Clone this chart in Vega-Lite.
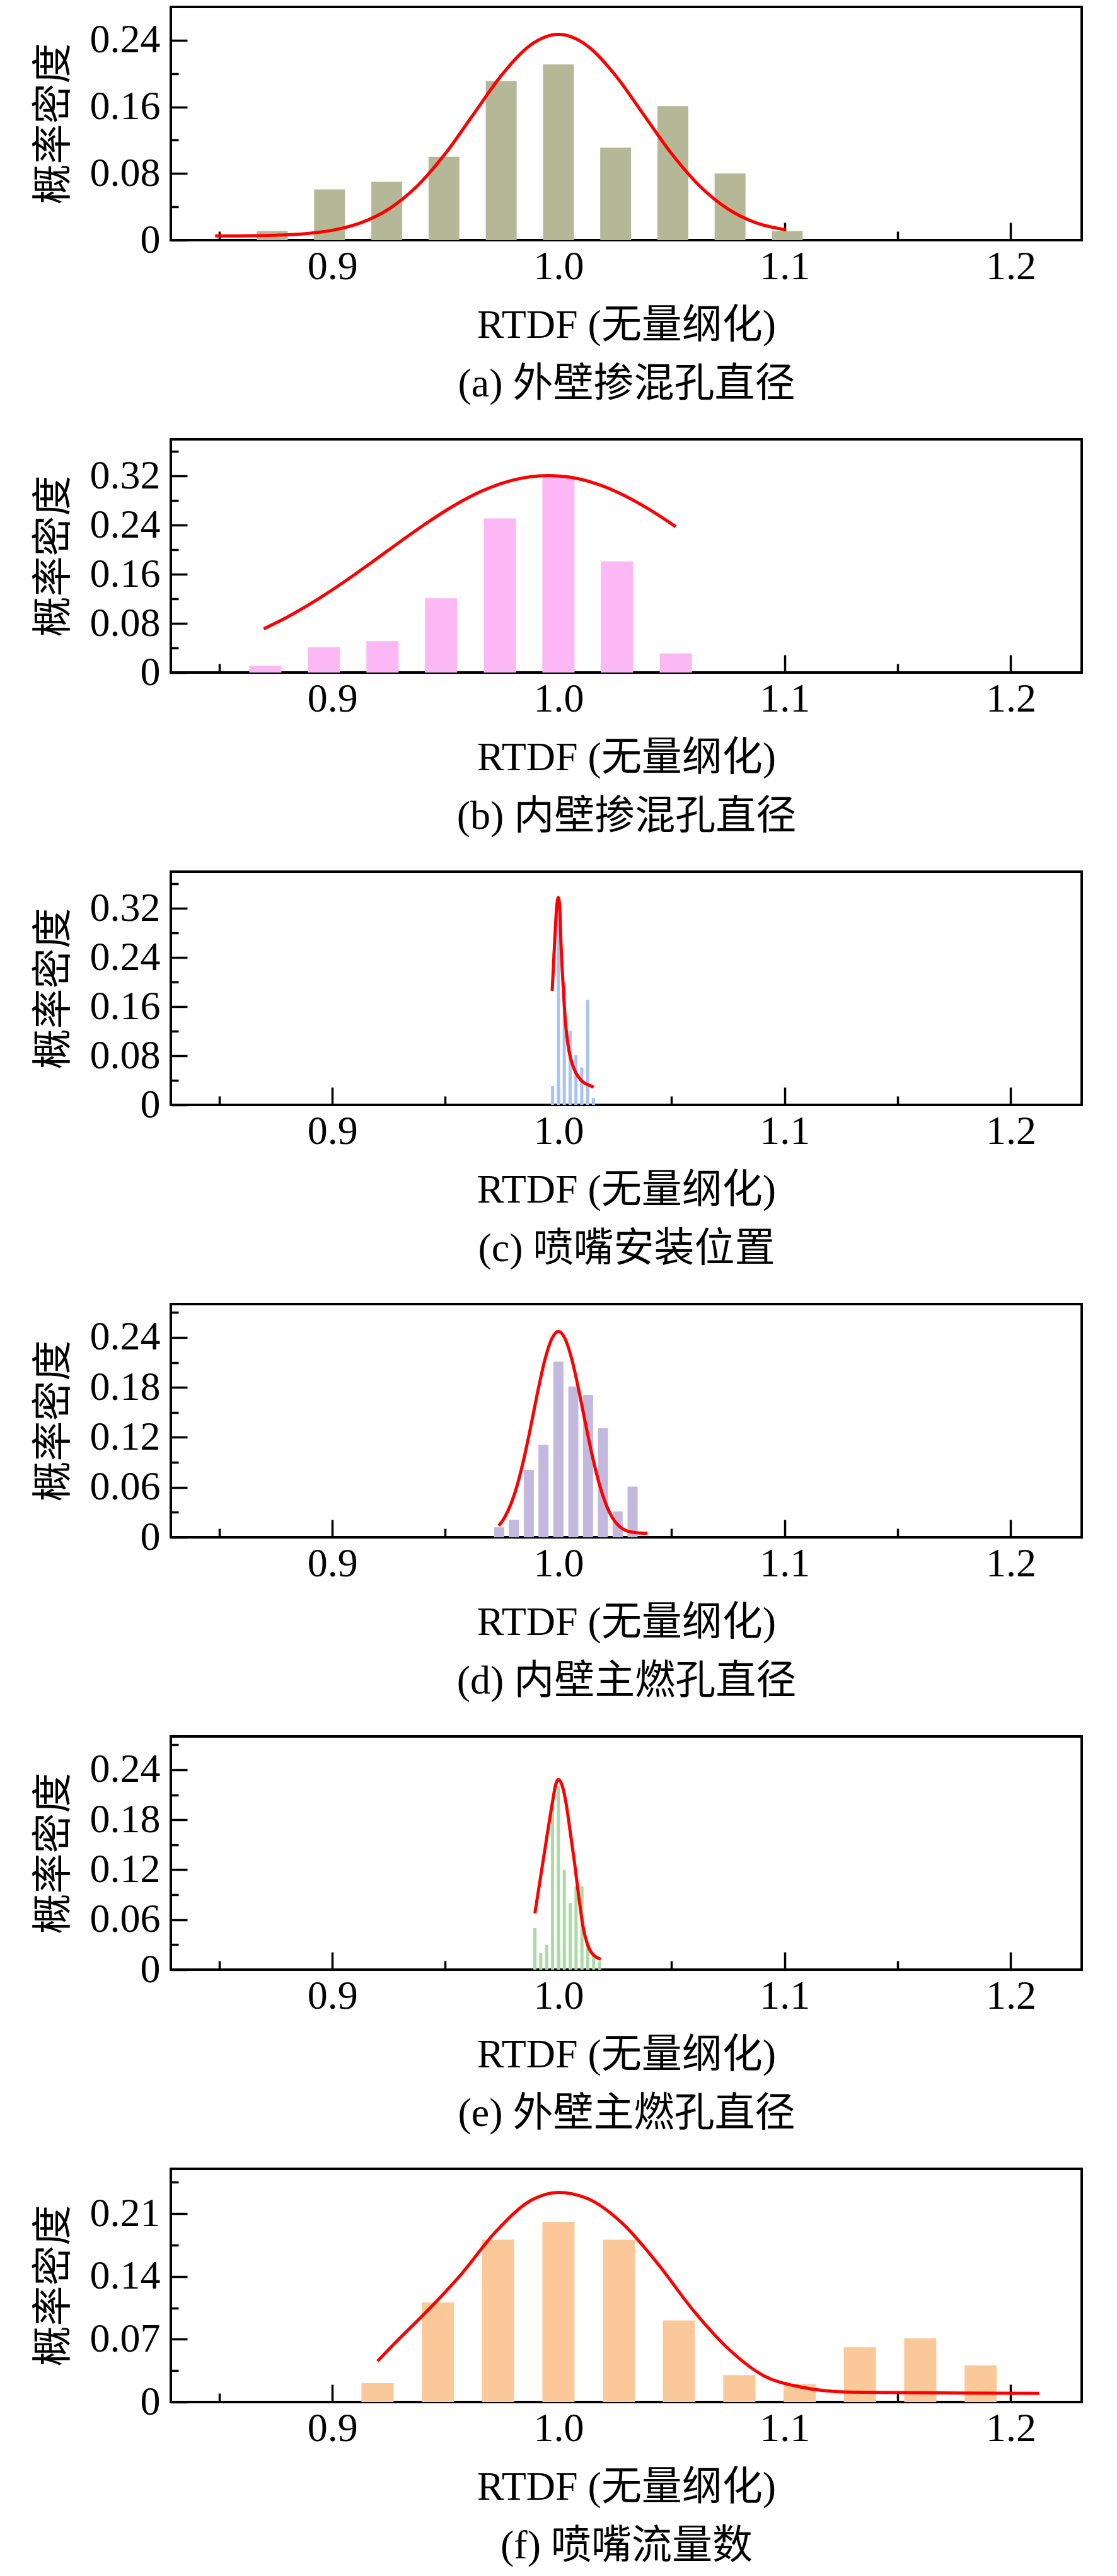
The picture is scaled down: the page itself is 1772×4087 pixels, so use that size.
{
  "$schema": "https://vega.github.io/schema/vega-lite/v6.json",
  "background": "white",
  "padding": {"left": 51, "top": 9, "right": 10, "bottom": 5},
  "bounds": "flush",
  "spacing": 316,
  "config": {
    "view": {"stroke": "black", "strokeWidth": 4},
    "font": "Liberation Serif",
    "axis": {"domain": false, "grid": false, "labelFont": "Liberation Serif", "labelFontSize": 64, "labelColor": "black", "tickColor": "black", "tickWidth": 3.5, "titleFont": "Liberation Serif, Noto Sans CJK SC", "titleFontSize": 64, "titleFontWeight": "normal", "titleColor": "black", "labelFlush": false, "labelOverlap": false, "labelBound": false},
    "axisX": {"labelPadding": 38, "titlePadding": 15, "titleLineHeight": 93},
    "axisY": {"labelPadding": 43, "titlePadding": 25},
    "line": {"color": "#ff0000", "strokeWidth": 5, "interpolate": "monotone"},
    "text": {"fontSize": 64, "font": "Liberation Serif", "align": "left", "baseline": "alphabetic"}
  },
  "datasets": {
    "bars_a": [{"x":0.8735,"y":0.011},{"x":0.8988,"y":0.061},{"x":0.9241,"y":0.070},{"x":0.9494,"y":0.100},{"x":0.9747,"y":0.191},{"x":1.0,"y":0.211},{"x":1.0253,"y":0.111},{"x":1.0506,"y":0.161},{"x":1.0759,"y":0.080},{"x":1.1012,"y":0.011}],
    "curve_a": [{"x":0.8482,"y":0.0051},{"x":0.86,"y":0.0052},{"x":0.875,"y":0.0059},{"x":0.8875,"y":0.0076},{"x":0.9,"y":0.0118},{"x":0.9125,"y":0.0207},{"x":0.925,"y":0.0374},{"x":0.9375,"y":0.0649},{"x":0.95,"y":0.104},{"x":0.9625,"y":0.1514},{"x":0.975,"y":0.1986},{"x":0.9875,"y":0.2339},{"x":1.0,"y":0.247},{"x":1.0125,"y":0.2339},{"x":1.025,"y":0.1986},{"x":1.0375,"y":0.1514},{"x":1.05,"y":0.104},{"x":1.0625,"y":0.0649},{"x":1.075,"y":0.0374},{"x":1.0875,"y":0.0207},{"x":1.1003,"y":0.0125}],
    "bars_b": [{"x":0.8704,"y":0.011},{"x":0.8963,"y":0.041},{"x":0.9222,"y":0.051},{"x":0.9481,"y":0.121},{"x":0.9741,"y":0.251},{"x":1.0,"y":0.321},{"x":1.0259,"y":0.181},{"x":1.0519,"y":0.031}],
    "curve_b": [{"x":0.8697,"y":0.0712},{"x":0.88,"y":0.0901},{"x":0.8925,"y":0.1169},{"x":0.905,"y":0.1471},{"x":0.9175,"y":0.1798},{"x":0.93,"y":0.2132},{"x":0.9425,"y":0.2455},{"x":0.955,"y":0.2745},{"x":0.9675,"y":0.2978},{"x":0.98,"y":0.3137},{"x":0.9956,"y":0.321},{"x":1.005,"y":0.3183},{"x":1.0175,"y":0.3067},{"x":1.03,"y":0.2869},{"x":1.0425,"y":0.2604},{"x":1.0519,"y":0.2375}],
    "bars_c": [{"x":0.99742,"y":0.031},{"x":1.0,"y":0.33},{"x":1.00258,"y":0.2},{"x":1.00516,"y":0.121},{"x":1.00774,"y":0.081},{"x":1.01032,"y":0.061},{"x":1.0129,"y":0.171},{"x":1.01548,"y":0.011}],
    "curve_c": [{"x":0.99724,"y":0.186},{"x":0.99834,"y":0.266},{"x":0.99926,"y":0.324},{"x":1.0,"y":0.338},{"x":1.00065,"y":0.318},{"x":1.00111,"y":0.266},{"x":1.00203,"y":0.198},{"x":1.00323,"y":0.13},{"x":1.00433,"y":0.0956},{"x":1.00664,"y":0.0615},{"x":1.00986,"y":0.041},{"x":1.01447,"y":0.0307},{"x":1.01557,"y":0.029}],
    "bars_d": [{"x":0.9738,"y":0.012},{"x":0.9803,"y":0.021},{"x":0.9869,"y":0.081},{"x":0.9934,"y":0.111},{"x":1.0,"y":0.211},{"x":1.0066,"y":0.181},{"x":1.0131,"y":0.171},{"x":1.0197,"y":0.131},{"x":1.0262,"y":0.031},{"x":1.0328,"y":0.061}],
    "curve_d": [{"x":0.9736,"y":0.0138},{"x":0.976,"y":0.0229},{"x":0.979,"y":0.0399},{"x":0.982,"y":0.0647},{"x":0.985,"y":0.0975},{"x":0.988,"y":0.1362},{"x":0.991,"y":0.1767},{"x":0.994,"y":0.2129},{"x":0.997,"y":0.238},{"x":1.0,"y":0.247},{"x":1.003,"y":0.238},{"x":1.006,"y":0.2129},{"x":1.009,"y":0.1767},{"x":1.012,"y":0.1362},{"x":1.015,"y":0.0975},{"x":1.018,"y":0.0647},{"x":1.021,"y":0.0399},{"x":1.024,"y":0.0229},{"x":1.027,"y":0.013},{"x":1.03,"y":0.008},{"x":1.033,"y":0.006},{"x":1.036,"y":0.0052},{"x":1.0394,"y":0.005}],
    "bars_e": [{"x":0.9896,"y":0.05},{"x":0.9922,"y":0.02},{"x":0.9948,"y":0.03},{"x":0.9974,"y":0.2},{"x":1.0,"y":0.22},{"x":1.0026,"y":0.12},{"x":1.0052,"y":0.08},{"x":1.0078,"y":0.1},{"x":1.0104,"y":0.1},{"x":1.013,"y":0.03},{"x":1.0156,"y":0.021},{"x":1.0182,"y":0.01}],
    "curve_e": [{"x":0.9896,"y":0.0676},{"x":0.99244,"y":0.117},{"x":0.99521,"y":0.165},{"x":0.99742,"y":0.202},{"x":0.99889,"y":0.223},{"x":1.0,"y":0.2284},{"x":1.00166,"y":0.221},{"x":1.0035,"y":0.198},{"x":1.00534,"y":0.163},{"x":1.00719,"y":0.127},{"x":1.00903,"y":0.087},{"x":1.01087,"y":0.052},{"x":1.01272,"y":0.0315},{"x":1.01502,"y":0.019},{"x":1.01871,"y":0.0126}],
    "bars_f": [{"x":0.92,"y":0.021},{"x":0.9467,"y":0.111},{"x":0.9733,"y":0.181},{"x":1.0,"y":0.201},{"x":1.0267,"y":0.181},{"x":1.0533,"y":0.091},{"x":1.08,"y":0.030},{"x":1.1067,"y":0.020},{"x":1.1333,"y":0.061},{"x":1.16,"y":0.071},{"x":1.1867,"y":0.041}],
    "curve_f": [{"x":0.92,"y":0.0456},{"x":0.9286,"y":0.068},{"x":0.941,"y":0.099},{"x":0.9567,"y":0.1415},{"x":0.9723,"y":0.19},{"x":0.988,"y":0.225},{"x":1.0,"y":0.2337},{"x":1.0128,"y":0.227},{"x":1.0284,"y":0.199},{"x":1.044,"y":0.154},{"x":1.0597,"y":0.102},{"x":1.0753,"y":0.059},{"x":1.091,"y":0.029},{"x":1.1066,"y":0.017},{"x":1.1284,"y":0.011},{"x":1.16,"y":0.0103},{"x":1.2126,"y":0.0097}]
  },
  "vconcat": [
    {
      "width": 1445, "height": 370,
      "encoding": {
        "x": {"field": "x", "type": "quantitative", "scale": {"domain": [0.83, 1.23], "nice": false},
          "axis": {"values": [0.85,0.9,0.95,1.0,1.05,1.1,1.15,1.2], "labelExpr": "indexof([0.9,1,1.1,1.2], datum.value) >= 0 ? format(datum.value, '.1f') : ''", "tickSize": {"condition": {"test": "indexof([0.9,1,1.1,1.2], datum.value) >= 0", "value": -28}, "value": -14}, "title": ["RTDF (无量纲化)", "(a) 外壁掺混孔直径"]}},
        "y": {"field": "y", "type": "quantitative", "scale": {"domain": [0, 0.28], "nice": false},
          "axis": {"values": [0,0.04,0.08,0.12,0.16,0.2,0.24], "labelExpr": "datum.value == 0 ? '0' : indexof([0.08,0.16,0.24], datum.value) >= 0 ? format(datum.value, '.2f') : ''", "tickSize": {"condition": {"test": "indexof([0,0.08,0.16,0.24], datum.value) >= 0", "value": -26}, "value": -12}, "title": "概率密度"}}
      },
      "layer": [
        {"data": {"name": "bars_a"}, "mark": {"type": "bar", "color": "#b5b896", "width": 49}},
        {"data": {"name": "curve_a"}, "mark": {"type": "line"}},
        {"data": {"values": [{"t": "μ"}]}, "mark": {"type": "text", "fontStyle": "italic"}, "encoding": {"x": {"datum": 1.158}, "y": {"datum": 0.2195}, "text": {"field": "t"}}},
        {"data": {"values": [{"t": "=1"}]}, "mark": {"type": "text", "dx": 33}, "encoding": {"x": {"datum": 1.158}, "y": {"datum": 0.2195}, "text": {"field": "t"}}},
        {"data": {"values": [{"t": "σ"}]}, "mark": {"type": "text", "fontStyle": "italic"}, "encoding": {"x": {"datum": 1.158}, "y": {"datum": 0.1438}, "text": {"field": "t"}}},
        {"data": {"values": [{"t": "=0.084"}]}, "mark": {"type": "text", "dx": 33}, "encoding": {"x": {"datum": 1.158}, "y": {"datum": 0.1438}, "text": {"field": "t"}}}
      ]
    },
    {
      "width": 1445, "height": 370,
      "encoding": {
        "x": {"field": "x", "type": "quantitative", "scale": {"domain": [0.83, 1.23], "nice": false},
          "axis": {"values": [0.85,0.9,0.95,1.0,1.05,1.1,1.15,1.2], "labelExpr": "indexof([0.9,1,1.1,1.2], datum.value) >= 0 ? format(datum.value, '.1f') : ''", "tickSize": {"condition": {"test": "indexof([0.9,1,1.1,1.2], datum.value) >= 0", "value": -28}, "value": -14}, "title": ["RTDF (无量纲化)", "(b) 内壁掺混孔直径"]}},
        "y": {"field": "y", "type": "quantitative", "scale": {"domain": [0, 0.38], "nice": false},
          "axis": {"values": [0,0.04,0.08,0.12,0.16,0.2,0.24,0.28,0.32,0.36], "labelExpr": "datum.value == 0 ? '0' : indexof([0.08,0.16,0.24,0.32], datum.value) >= 0 ? format(datum.value, '.2f') : ''", "tickSize": {"condition": {"test": "indexof([0,0.08,0.16,0.24,0.32], datum.value) >= 0", "value": -26}, "value": -12}, "title": "概率密度"}}
      },
      "layer": [
        {"data": {"name": "bars_b"}, "mark": {"type": "bar", "color": "#fbb8f5", "width": 51}},
        {"data": {"name": "curve_b"}, "mark": {"type": "line"}},
        {"data": {"values": [{"t": "μ"}]}, "mark": {"type": "text", "fontStyle": "italic"}, "encoding": {"x": {"datum": 1.158}, "y": {"datum": 0.298}, "text": {"field": "t"}}},
        {"data": {"values": [{"t": "=1"}]}, "mark": {"type": "text", "dx": 33}, "encoding": {"x": {"datum": 1.158}, "y": {"datum": 0.298}, "text": {"field": "t"}}},
        {"data": {"values": [{"t": "σ"}]}, "mark": {"type": "text", "fontStyle": "italic"}, "encoding": {"x": {"datum": 1.158}, "y": {"datum": 0.195}, "text": {"field": "t"}}},
        {"data": {"values": [{"t": "=0.071"}]}, "mark": {"type": "text", "dx": 33}, "encoding": {"x": {"datum": 1.158}, "y": {"datum": 0.195}, "text": {"field": "t"}}}
      ]
    },
    {
      "width": 1445, "height": 370,
      "encoding": {
        "x": {"field": "x", "type": "quantitative", "scale": {"domain": [0.83, 1.23], "nice": false},
          "axis": {"values": [0.85,0.9,0.95,1.0,1.05,1.1,1.15,1.2], "labelExpr": "indexof([0.9,1,1.1,1.2], datum.value) >= 0 ? format(datum.value, '.1f') : ''", "tickSize": {"condition": {"test": "indexof([0.9,1,1.1,1.2], datum.value) >= 0", "value": -28}, "value": -14}, "title": ["RTDF (无量纲化)", "(c) 喷嘴安装位置"]}},
        "y": {"field": "y", "type": "quantitative", "scale": {"domain": [0, 0.38], "nice": false},
          "axis": {"values": [0,0.04,0.08,0.12,0.16,0.2,0.24,0.28,0.32,0.36], "labelExpr": "datum.value == 0 ? '0' : indexof([0.08,0.16,0.24,0.32], datum.value) >= 0 ? format(datum.value, '.2f') : ''", "tickSize": {"condition": {"test": "indexof([0,0.08,0.16,0.24,0.32], datum.value) >= 0", "value": -26}, "value": -12}, "title": "概率密度"}}
      },
      "layer": [
        {"data": {"name": "bars_c"}, "mark": {"type": "bar", "color": "#a7c3ef", "width": 5}},
        {"data": {"name": "curve_c"}, "mark": {"type": "line"}},
        {"data": {"values": [{"t": "μ"}]}, "mark": {"type": "text", "fontStyle": "italic"}, "encoding": {"x": {"datum": 1.158}, "y": {"datum": 0.298}, "text": {"field": "t"}}},
        {"data": {"values": [{"t": "=1"}]}, "mark": {"type": "text", "dx": 33}, "encoding": {"x": {"datum": 1.158}, "y": {"datum": 0.298}, "text": {"field": "t"}}},
        {"data": {"values": [{"t": "σ"}]}, "mark": {"type": "text", "fontStyle": "italic"}, "encoding": {"x": {"datum": 1.158}, "y": {"datum": 0.195}, "text": {"field": "t"}}},
        {"data": {"values": [{"t": "=0.009"}]}, "mark": {"type": "text", "dx": 33}, "encoding": {"x": {"datum": 1.158}, "y": {"datum": 0.195}, "text": {"field": "t"}}}
      ]
    },
    {
      "width": 1445, "height": 370,
      "encoding": {
        "x": {"field": "x", "type": "quantitative", "scale": {"domain": [0.83, 1.23], "nice": false},
          "axis": {"values": [0.85,0.9,0.95,1.0,1.05,1.1,1.15,1.2], "labelExpr": "indexof([0.9,1,1.1,1.2], datum.value) >= 0 ? format(datum.value, '.1f') : ''", "tickSize": {"condition": {"test": "indexof([0.9,1,1.1,1.2], datum.value) >= 0", "value": -28}, "value": -14}, "title": ["RTDF (无量纲化)", "(d) 内壁主燃孔直径"]}},
        "y": {"field": "y", "type": "quantitative", "scale": {"domain": [0, 0.28], "nice": false},
          "axis": {"values": [0,0.03,0.06,0.09,0.12,0.15,0.18,0.21,0.24,0.27], "labelExpr": "datum.value == 0 ? '0' : indexof([0.06,0.12,0.18,0.24], datum.value) >= 0 ? format(datum.value, '.2f') : ''", "tickSize": {"condition": {"test": "indexof([0,0.06,0.12,0.18,0.24], datum.value) >= 0", "value": -26}, "value": -12}, "title": "概率密度"}}
      },
      "layer": [
        {"data": {"name": "bars_d"}, "mark": {"type": "bar", "color": "#c3b8dd", "width": 16}},
        {"data": {"name": "curve_d"}, "mark": {"type": "line"}},
        {"data": {"values": [{"t": "μ"}]}, "mark": {"type": "text", "fontStyle": "italic"}, "encoding": {"x": {"datum": 1.158}, "y": {"datum": 0.2195}, "text": {"field": "t"}}},
        {"data": {"values": [{"t": "=1"}]}, "mark": {"type": "text", "dx": 33}, "encoding": {"x": {"datum": 1.158}, "y": {"datum": 0.2195}, "text": {"field": "t"}}},
        {"data": {"values": [{"t": "σ"}]}, "mark": {"type": "text", "fontStyle": "italic"}, "encoding": {"x": {"datum": 1.158}, "y": {"datum": 0.1438}, "text": {"field": "t"}}},
        {"data": {"values": [{"t": "=0.022"}]}, "mark": {"type": "text", "dx": 33}, "encoding": {"x": {"datum": 1.158}, "y": {"datum": 0.1438}, "text": {"field": "t"}}}
      ]
    },
    {
      "width": 1445, "height": 370,
      "encoding": {
        "x": {"field": "x", "type": "quantitative", "scale": {"domain": [0.83, 1.23], "nice": false},
          "axis": {"values": [0.85,0.9,0.95,1.0,1.05,1.1,1.15,1.2], "labelExpr": "indexof([0.9,1,1.1,1.2], datum.value) >= 0 ? format(datum.value, '.1f') : ''", "tickSize": {"condition": {"test": "indexof([0.9,1,1.1,1.2], datum.value) >= 0", "value": -28}, "value": -14}, "title": ["RTDF (无量纲化)", "(e) 外壁主燃孔直径"]}},
        "y": {"field": "y", "type": "quantitative", "scale": {"domain": [0, 0.28], "nice": false},
          "axis": {"values": [0,0.03,0.06,0.09,0.12,0.15,0.18,0.21,0.24,0.27], "labelExpr": "datum.value == 0 ? '0' : indexof([0.06,0.12,0.18,0.24], datum.value) >= 0 ? format(datum.value, '.2f') : ''", "tickSize": {"condition": {"test": "indexof([0,0.06,0.12,0.18,0.24], datum.value) >= 0", "value": -26}, "value": -12}, "title": "概率密度"}}
      },
      "layer": [
        {"data": {"name": "bars_e"}, "mark": {"type": "bar", "color": "#a9dba3", "width": 5}},
        {"data": {"name": "curve_e"}, "mark": {"type": "line"}},
        {"data": {"values": [{"t": "μ"}]}, "mark": {"type": "text", "fontStyle": "italic"}, "encoding": {"x": {"datum": 1.158}, "y": {"datum": 0.2195}, "text": {"field": "t"}}},
        {"data": {"values": [{"t": "=1"}]}, "mark": {"type": "text", "dx": 33}, "encoding": {"x": {"datum": 1.158}, "y": {"datum": 0.2195}, "text": {"field": "t"}}},
        {"data": {"values": [{"t": "σ"}]}, "mark": {"type": "text", "fontStyle": "italic"}, "encoding": {"x": {"datum": 1.158}, "y": {"datum": 0.1438}, "text": {"field": "t"}}},
        {"data": {"values": [{"t": "=0.010"}]}, "mark": {"type": "text", "dx": 33}, "encoding": {"x": {"datum": 1.158}, "y": {"datum": 0.1438}, "text": {"field": "t"}}}
      ]
    },
    {
      "width": 1445, "height": 370,
      "encoding": {
        "x": {"field": "x", "type": "quantitative", "scale": {"domain": [0.83, 1.23], "nice": false},
          "axis": {"values": [0.85,0.9,0.95,1.0,1.05,1.1,1.15,1.2], "labelExpr": "indexof([0.9,1,1.1,1.2], datum.value) >= 0 ? format(datum.value, '.1f') : ''", "tickSize": {"condition": {"test": "indexof([0.9,1,1.1,1.2], datum.value) >= 0", "value": -28}, "value": -14}, "title": ["RTDF (无量纲化)", "(f) 喷嘴流量数"]}},
        "y": {"field": "y", "type": "quantitative", "scale": {"domain": [0, 0.26], "nice": false},
          "axis": {"values": [0,0.035,0.07,0.105,0.14,0.175,0.21,0.245], "labelExpr": "datum.value == 0 ? '0' : indexof([0.07,0.14,0.21], datum.value) >= 0 ? format(datum.value, '.2f') : ''", "tickSize": {"condition": {"test": "indexof([0,0.07,0.14,0.21], datum.value) >= 0", "value": -26}, "value": -12}, "title": "概率密度"}}
      },
      "layer": [
        {"data": {"name": "bars_f"}, "mark": {"type": "bar", "color": "#fbc89a", "width": 51}},
        {"data": {"name": "curve_f"}, "mark": {"type": "line"}},
        {"data": {"values": [{"t": "μ"}]}, "mark": {"type": "text", "fontStyle": "italic"}, "encoding": {"x": {"datum": 1.158}, "y": {"datum": 0.2038}, "text": {"field": "t"}}},
        {"data": {"values": [{"t": "=1"}]}, "mark": {"type": "text", "dx": 33}, "encoding": {"x": {"datum": 1.158}, "y": {"datum": 0.2038}, "text": {"field": "t"}}},
        {"data": {"values": [{"t": "σ"}]}, "mark": {"type": "text", "fontStyle": "italic"}, "encoding": {"x": {"datum": 1.158}, "y": {"datum": 0.1335}, "text": {"field": "t"}}},
        {"data": {"values": [{"t": "=0.114"}]}, "mark": {"type": "text", "dx": 33}, "encoding": {"x": {"datum": 1.158}, "y": {"datum": 0.1335}, "text": {"field": "t"}}}
      ]
    }
  ]
}
